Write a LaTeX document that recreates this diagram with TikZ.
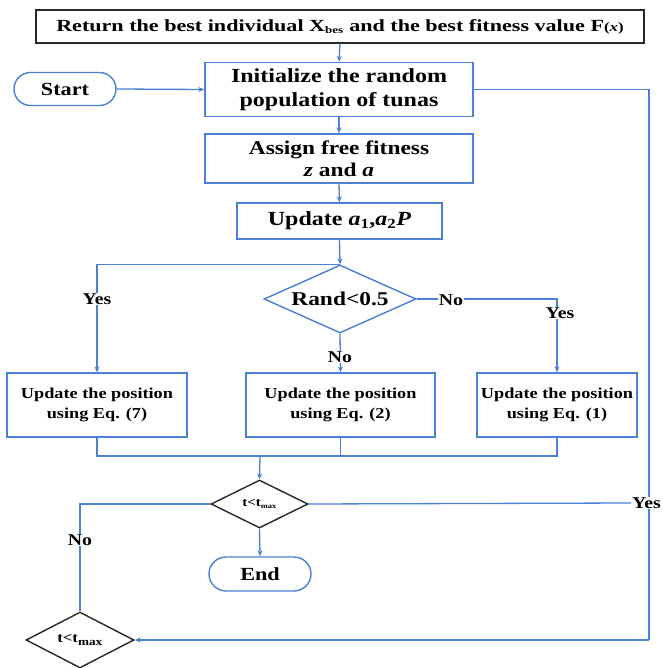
\documentclass[tikz,border=0pt]{standalone}
\usepackage{fontspec}
\setmainfont{Liberation Serif}[FakeStretch=1.2]
\newfontfamily\topfont{Liberation Serif}[FakeStretch=1.3]
\usetikzlibrary{shapes.geometric,shapes.misc,arrows.meta}
\definecolor{fblue}{RGB}{74,128,214}
\definecolor{fdark}{RGB}{40,40,40}
\tikzset{
  box/.style={draw=fblue,line width=1.4pt,rectangle,align=center,inner sep=0pt,font=\bfseries\fontsize{20}{24}\selectfont},
  smallbox/.style={box,font=\bfseries\fontsize{15.2}{20}\selectfont},
  term/.style={draw=fblue,line width=1.4pt,rounded rectangle,inner sep=0pt,font=\bfseries\fontsize{18.5}{20}\selectfont},
  dia/.style={diamond,draw=fblue,line width=1.4pt,inner sep=0pt},
  bdia/.style={diamond,draw=fdark,line width=1.4pt,inner sep=0pt},
  conn/.style={draw=fblue,line width=1.3pt},
  arr/.style={conn,-{Stealth[length=6pt,width=5pt]}},
  lab/.style={fill=white,inner sep=1pt,font=\bfseries\fontsize{16.5}{18}\selectfont},
}
\begin{document}
\begin{tikzpicture}[x=1pt,y=-1pt]
\useasboundingbox[fill=white] (0,0) rectangle (662,668);
\node[draw=fdark,line width=1.4pt,minimum width=608pt,minimum height=33pt,inner sep=0pt,font=\topfont\bfseries\fontsize{17}{18}\selectfont] (top) at (340,26.5)
  {Return the best individual X\textsubscript{\fontsize{10}{10}\selectfont bes} and the best fitness value F{\fontsize{13}{13}\selectfont(\textit{x})}};
\node[box,minimum width=268pt,minimum height=54pt] (init) at (339,89.5) {Initialize the random\\population of tunas};
\node[term,minimum width=102pt,minimum height=33pt] (start) at (65,89) {Start};
\node[box,minimum width=268pt,minimum height=49pt,font=\bfseries\fontsize{19.5}{22}\selectfont] (assign) at (339,158.5) {Assign free fitness\\\textit{z} and \textit{a}};
\node[box,minimum width=205pt,minimum height=36pt] (upd) at (339.5,221) {Update \textit{a}\textsubscript{1},\textit{a}\textsubscript{2}\textit{P}};
\node[dia,minimum width=152pt,minimum height=68pt,label={[font=\bfseries\fontsize{19.5}{22}\selectfont]center:Rand<0.5}] (rand) at (340,299) {};
\node[smallbox,minimum width=180pt,minimum height=64pt] (u7) at (97,405) {Update the position\\using Eq. (7)};
\node[smallbox,minimum width=189pt,minimum height=64pt] (u2) at (340.5,405) {Update the position\\using Eq. (2)};
\node[smallbox,minimum width=160pt,minimum height=64pt] (u1) at (557,405) {Update the position\\using Eq. (1)};
\node[bdia,minimum width=97pt,minimum height=48pt,label={[font=\bfseries\fontsize{12.5}{14}\selectfont]center:t<t\textsubscript{\fontsize{7}{7}\selectfont max}}] (d2) at (259.5,504) {};
\node[term,minimum width=102pt,minimum height=34pt] (end) at (260,574) {End};
\node[bdia,minimum width=108pt,minimum height=56pt,label={[font=\bfseries\fontsize{14}{16}\selectfont]center:t<t\textsubscript{\fontsize{11}{11}\selectfont max}}] (d3) at (80,640) {};
\coordinate (m) at (260,456);
\coordinate (rc) at (649,640);
% connectors
\draw[arr] (top.south) -- (init.north);
\draw[arr] (start.east) -- (init.west);
\draw[arr] (init.south) -- (assign.north);
\draw[arr] (assign.south) -- (upd.north);
\draw[arr] (upd.south) -- (rand.north);
\draw[arr] (rand.north) -| (u7.north);
\draw[arr] (rand.east) -| (u1.north);
\draw[arr] (rand.south) -- (u2.north);
\draw[conn] (u7.south) |- (m) -| (u1.south);
\draw[conn] (u2.south) -- (u2.south |- m);
\draw[arr] (m) -- (d2.north);
\draw[arr] (d2.south) -- (end.north);
\draw[conn] (d2.west) -| (d3.north);
\draw[conn] (init.east) -| (rc);
\draw[arr] (rc) -- (d3.east);
\node[lab,anchor=east,inner sep=1pt] (yesR) at (662,503) {Yes};
\draw[conn] (d2.east) -- (yesR.west);
% labels
\node[lab] (yesL) at (97,299) {Yes};
\node[lab] (noR) at (451,300) {No};
\node[lab] (yesR1) at (560,313) {Yes};
\node[lab] (noB) at (340,357) {No};
\node[lab] (noL) at (80,540) {No};
\end{tikzpicture}
\end{document}
